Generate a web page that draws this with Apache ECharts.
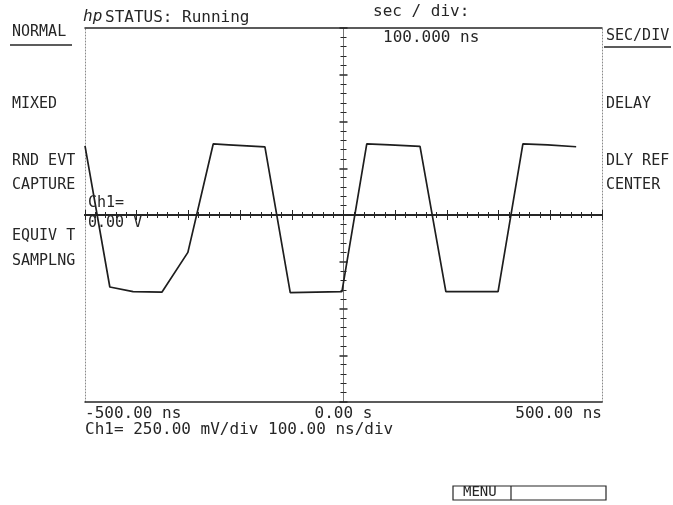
<!DOCTYPE html>
<html>
<head>
<meta charset="utf-8">
<script src="https://cdn.jsdelivr.net/npm/echarts@6/dist/echarts.min.js"></script>
<style>
  html, body { margin: 0; padding: 0; background: #fff; }
  #chart { width: 673px; height: 505px; }
</style>
</head>
<body>
<div id="chart"></div>
<script>
// waveform: time in ns, level in V
const timeNs = [-500, -452, -407, -351, -301, -252, -222, -152, -103, -3, 45, 90, 148, 198, 299, 347, 395, 450]
const voltsV = [0.37, -0.385, -0.41, -0.412, -0.2, 0.38, 0.375, 0.364, -0.415, -0.41, 0.38, 0.375, 0.367, -0.41, -0.41, 0.38, 0.375, 0.365]

const xTickValues = [-500, 0, 500]
const xTickLabels = ['-500.00 ns', '0.00 s', '500.00 ns']

const leftMenu = ['NORMAL', 'MIXED', 'RND EVT', 'CAPTURE', 'EQUIV T', 'SAMPLNG']
const rightMenu = ['SEC/DIV', 'DELAY', 'DLY REF', 'CENTER']

const MONO = '"DejaVu Sans Mono", "Liberation Mono", monospace'
const INK = '#262626'

const plot = { left: 85, top: 28, width: 517, height: 374 }

const txt = (text, x, y, size, extra) => ({
    type: 'text',
    x: x,
    y: y,
    z: 100,
    style: Object.assign({
        text: text,
        font: size + 'px ' + MONO,
        fill: INK,
        verticalAlign: 'top'
    }, extra || {})
})

const hline = (x1, x2, y, w) => ({
    type: 'line',
    z: 100,
    shape: { x1: x1, y1: y, x2: x2, y2: y },
    style: { stroke: INK, lineWidth: w || 1.5 }
})

// center axes: ticks on both sides of the line
const centerX = (pos) => ({
    gridIndex: 0,
    type: 'value',
    min: -500,
    max: 500,
    interval: 100,
    position: pos,
    axisLine: { onZero: true, lineStyle: { color: INK, width: 2 } },
    axisTick: { show: true, length: 5, lineStyle: { color: INK, width: 1 } },
    minorTick: { show: true, splitNumber: 5, length: 3, lineStyle: { color: INK, width: 1 } },
    axisLabel: { show: false },
    splitLine: { show: false }
})

const centerY = (pos) => ({
    gridIndex: 0,
    type: 'value',
    min: -1,
    max: 1,
    interval: 0.25,
    position: pos,
    axisLine: { onZero: true, lineStyle: { color: '#777', width: 1 } },
    axisTick: { show: true, length: 4, lineStyle: { color: INK, width: 1.5 } },
    minorTick: { show: true, splitNumber: 5, length: 3, lineStyle: { color: INK, width: 1 } },
    axisLabel: { show: false },
    splitLine: { show: false }
})

// outer frame: solid top/bottom, dotted sides
const frameY = (pos) => ({
    gridIndex: 1,
    type: 'value',
    min: -1,
    max: 1,
    position: pos,
    axisLine: { onZero: false, lineStyle: { color: '#8a8a8a', width: 1, type: [1, 2] } },
    axisTick: { show: false },
    axisLabel: { show: false },
    splitLine: { show: false }
})

const graphics = []
graphics.push(txt('hp', 83, 9, 16, { font: 'italic 16px ' + MONO }))
graphics.push(txt('STATUS: Running', 105, 10, 16))
graphics.push(txt('sec / div:', 373, 4, 16))
graphics.push(txt('100.000 ns', 383, 30, 16))

const leftY = [25, 97, 154, 178, 229, 254]
leftMenu.forEach((t, i) => graphics.push(txt(t, 12, leftY[i], 15)))
graphics.push(hline(10, 72, 45))

const rightY = [29, 97, 154, 178]
rightMenu.forEach((t, i) => graphics.push(txt(t, 606, rightY[i], 15)))
graphics.push(hline(604, 671, 47))

graphics.push(txt('Ch1=', 88, 196, 15))
graphics.push(txt('0.00 V', 88, 216, 15))
graphics.push(txt('Ch1= 250.00 mV/div 100.00 ns/div', 85, 422, 16))

// soft key box
graphics.push({
    type: 'rect',
    z: 100,
    shape: { x: 453, y: 486, width: 153, height: 14 },
    style: { fill: 'none', stroke: INK, lineWidth: 1.2 }
})
graphics.push({
    type: 'line',
    z: 100,
    shape: { x1: 511, y1: 486, x2: 511, y2: 500 },
    style: { stroke: INK, lineWidth: 1.2 }
})
graphics.push(txt('MENU', 463, 485, 14))

const chart = echarts.init(document.getElementById('chart'), null, { renderer: 'canvas' })

chart.setOption({
    animation: false,
    backgroundColor: '#fff',
    grid: [
        Object.assign({}, plot),
        Object.assign({}, plot)
    ],
    xAxis: [
        centerX('bottom'),
        centerX('top'),
        {
            gridIndex: 1,
            type: 'value',
            min: -500,
            max: 500,
            interval: 500,
            position: 'bottom',
            axisLine: { onZero: false, lineStyle: { color: INK, width: 1.5 } },
            axisTick: { show: false },
            splitLine: { show: false },
            axisLabel: {
                show: true,
                margin: 4,
                color: INK,
                fontFamily: MONO,
                fontSize: 16,
                alignMinLabel: 'left',
                alignMaxLabel: 'right',
                formatter: v => xTickLabels[xTickValues.indexOf(v)] || ''
            }
        },
        {
            gridIndex: 1,
            type: 'value',
            min: -500,
            max: 500,
            position: 'top',
            axisLine: { onZero: false, lineStyle: { color: INK, width: 1.5 } },
            axisTick: { show: false },
            axisLabel: { show: false },
            splitLine: { show: false }
        }
    ],
    yAxis: [
        centerY('left'),
        centerY('right'),
        frameY('left'),
        frameY('right')
    ],
    series: [
        {
            type: 'line',
            xAxisIndex: 0,
            yAxisIndex: 0,
            data: timeNs.map((t, i) => [t, voltsV[i]]),
            symbol: 'none',
            lineStyle: { color: '#1e1e1e', width: 1.7 },
            z: 10
        }
    ],
    graphic: graphics
})
</script>
</body>
</html>
